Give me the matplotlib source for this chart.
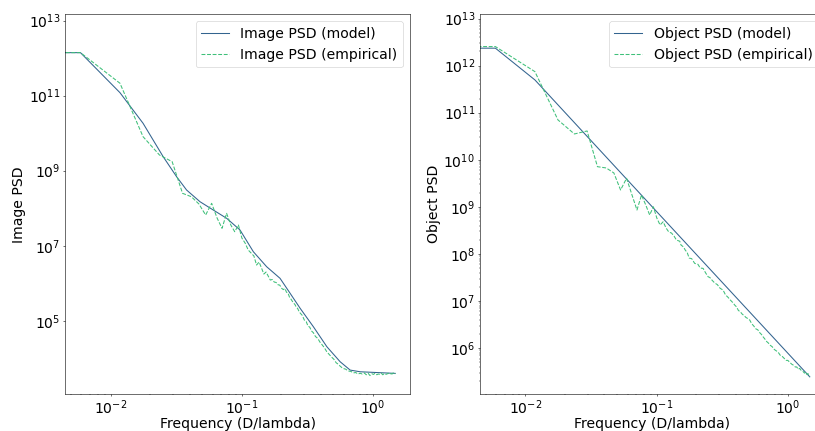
import numpy as np
import matplotlib
matplotlib.use("Agg")
import matplotlib.pyplot as plt

# frequency samples (D/lambda) and log10 PSD values
img_model_f = [0.0, 0.0059, 0.0118, 0.0177, 0.0252, 0.0319, 0.038, 0.0481, 0.0607,
               0.0768, 0.0971, 0.1227, 0.155, 0.196, 0.234, 0.279, 0.352, 0.446,
               0.563, 0.671, 0.8, 1.48]
img_model_log = [12.147, 12.147, 11.08, 10.264, 9.373, 8.84, 8.485, 8.173, 7.952,
                 7.731, 7.419, 6.84, 6.44, 6.131, 5.731, 5.331, 4.84, 4.307,
                 3.907, 3.685, 3.64, 3.597]

img_emp_f = [0.0, 0.0059, 0.0118, 0.0177, 0.0236, 0.0295, 0.0354, 0.0413, 0.0472,
             0.0531, 0.059, 0.0649, 0.0708, 0.0767, 0.0826, 0.0885, 0.0944, 0.1003,
             0.1062, 0.1121, 0.118, 0.1239, 0.1298, 0.1357, 0.1416, 0.1475, 0.1534,
             0.1593, 0.1652, 0.1711, 0.177, 0.183, 0.189, 0.195, 0.2018, 0.2077,
             0.2136, 0.2195, 0.2254, 0.2313, 0.2372, 0.2431, 0.249, 0.2549, 0.2608,
             0.2667, 0.2726, 0.2785, 0.29, 0.30, 0.31, 0.32, 0.33, 0.34, 0.352,
             0.365, 0.38, 0.395, 0.41, 0.425, 0.446, 0.465, 0.485, 0.505, 0.525,
             0.545, 0.563, 0.59, 0.62, 0.65, 0.68, 0.71, 0.74, 0.77, 0.80, 0.83,
             0.86, 0.89, 0.92, 0.95, 0.98, 1.01, 1.04, 1.07, 1.10, 1.13, 1.16,
             1.19, 1.22, 1.25, 1.28, 1.31, 1.34, 1.37, 1.40, 1.43, 1.46, 1.48]
img_emp_log = [12.147, 12.147, 11.331, 9.907, 9.419, 9.24, 8.397, 8.307, 8.112,
               7.819, 8.131, 7.739, 7.464, 7.864, 7.552, 7.373, 7.552, 7.205,
               7.07, 6.885, 6.805, 6.725, 6.485, 6.565, 6.405, 6.245, 6.299,
               6.19, 6.085, 6.10, 6.032, 6.02, 5.96, 5.95, 5.864, 5.83,
               5.86, 5.76, 5.74, 5.63, 5.58, 5.52, 5.47, 5.43, 5.36,
               5.33, 5.26, 5.21, 5.14, 5.02, 4.98, 4.86, 4.83, 4.73, 4.68,
               4.58, 4.53, 4.43, 4.36, 4.29, 4.17, 4.10, 4.03, 3.97, 3.88,
               3.84, 3.79, 3.73, 3.71, 3.66, 3.65, 3.61, 3.62, 3.58, 3.60, 3.58,
               3.61, 3.56, 3.60, 3.54, 3.59, 3.57, 3.60, 3.56, 3.58, 3.57, 3.60,
               3.56, 3.59, 3.57, 3.58, 3.60, 3.57, 3.59, 3.58, 3.61, 3.58, 3.60]

obj_model_f = [0.0, 0.0059, 0.0118, 0.1, 1.47]
obj_model_log = [12.37, 12.37, 11.696, 8.90, 5.39]

obj_emp_f = [0.0, 0.0059, 0.0118, 0.0177, 0.0236, 0.0295, 0.0354, 0.0413, 0.0472,
             0.0531, 0.059, 0.0649, 0.0708, 0.0767, 0.0826, 0.0885, 0.0944, 0.1003,
             0.1062, 0.1121, 0.118, 0.1239, 0.1298, 0.1357, 0.1416, 0.15, 0.1534,
             0.16, 0.1652, 0.171, 0.177, 0.185, 0.195, 0.2065, 0.215, 0.226, 0.236,
             0.247, 0.2544, 0.265, 0.278, 0.29, 0.305, 0.321, 0.335, 0.35, 0.365,
             0.38, 0.395, 0.406, 0.42, 0.435, 0.45, 0.465, 0.48, 0.495, 0.513,
             0.53, 0.55, 0.57, 0.59, 0.61, 0.63, 0.648, 0.67, 0.69, 0.71, 0.735,
             0.76, 0.79, 0.819, 0.85, 0.88, 0.91, 0.94, 0.97, 1.0, 1.034, 1.07,
             1.10, 1.14, 1.17, 1.20, 1.232, 1.27, 1.30, 1.34, 1.37, 1.40, 1.425,
             1.45, 1.47]
obj_emp_log = [12.404, 12.404, 11.872, 10.846, 10.548, 10.612, 9.853, 9.826, 9.72,
               9.358, 9.607, 9.252, 8.933, 9.252, 9.04, 8.827, 9.003, 8.763,
               8.615, 8.684, 8.55, 8.465, 8.444, 8.38, 8.295, 8.27, 8.19,
               8.15, 8.083, 8.03, 7.913, 7.90, 7.80, 7.78, 7.70, 7.694, 7.60,
               7.515, 7.50, 7.44, 7.38, 7.35, 7.27, 7.233, 7.13, 7.08, 7.02,
               6.97, 6.91, 6.878, 6.80, 6.77, 6.72, 6.69, 6.65, 6.63, 6.595,
               6.52, 6.47, 6.41, 6.39, 6.33, 6.29, 6.24, 6.19, 6.14, 6.11, 6.06,
               6.03, 5.97, 5.94, 5.90, 5.84, 5.82, 5.78, 5.74, 5.74, 5.70, 5.66,
               5.64, 5.60, 5.60, 5.55, 5.57, 5.52, 5.51, 5.47, 5.49, 5.44, 5.46,
               5.42, 5.40]

blue = '#33648f'
green = '#3fc07a'

plt.rcParams['font.size'] = 20

DPI = 50.4
fig = plt.figure(figsize=(816 / DPI, 431 / DPI), dpi=DPI)
ax1 = fig.add_axes([0.0797, 0.0852, 0.4228, 0.8817])
ax2 = fig.add_axes([0.5882, 0.0852, 0.4228, 0.8817])

panels = [
    (ax1, img_model_f, img_model_log, img_emp_f, img_emp_log, 'Image', (10**3.04, 10**13.17)),
    (ax2, obj_model_f, obj_model_log, obj_emp_f, obj_emp_log, 'Object', (10**5.02, 10**13.09)),
]

for ax, mf, ml, ef, el, name, ylim in panels:
    ax.loglog(mf, 10**np.array(ml), color=blue, lw=1.5, label=name + ' PSD (model)')
    ax.loglog(ef, 10**np.array(el), color=green, lw=1.5, ls='--',
              label=name + ' PSD (empirical)')
    ax.set_xlim(0.00450, 1.92)
    ax.set_ylim(*ylim)
    ax.tick_params(axis='x', pad=2)
    ax.set_xlabel('Frequency (D/lambda)', labelpad=0.5)
    ax.set_ylabel(name + ' PSD')
    ax.legend(loc='upper right')

fig.savefig('out.png', dpi=DPI)
